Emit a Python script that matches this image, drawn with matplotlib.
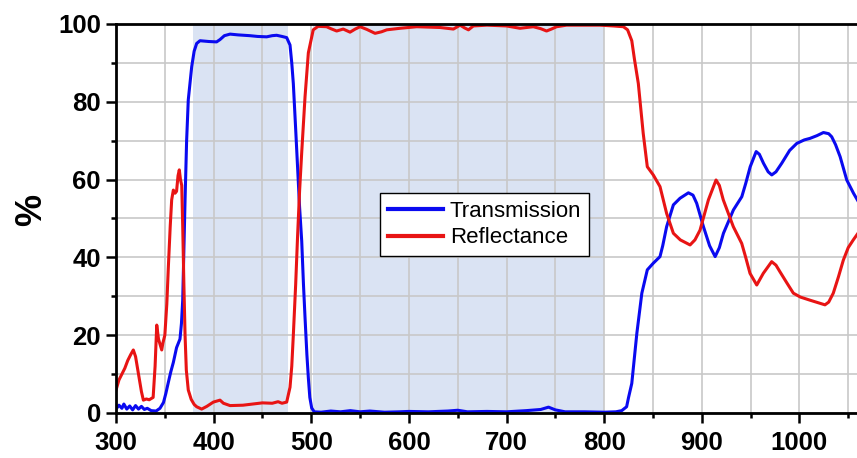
import matplotlib
matplotlib.use('Agg')
import matplotlib.pyplot as plt
from matplotlib.ticker import MultipleLocator

plt.rcParams['font.family'] = ['Liberation Sans', 'DejaVu Sans']

# Transmission spectrum (wavelength nm, %)
trans_nm = [300, 303, 306, 308, 311, 314, 317, 320, 323, 326, 329, 332, 336, 341, 345,
            348.6, 351, 353.6, 356, 358.7, 362, 365.5, 367, 368.3, 369.5, 370.7, 372.3,
            374, 377.5, 380, 382.6, 386, 395, 403, 406.5, 411, 416.8, 425, 437, 445,
            454.3, 460, 464.5, 470, 474.8, 478.2, 480, 481.6, 484, 486, 488, 490.2, 492,
            493.6, 495.5, 497, 498.5, 500.4, 503, 510, 520, 530, 540, 550, 560, 575, 590,
            600, 620, 640, 650, 660, 680, 700, 720, 735, 743, 750, 760, 780, 800, 812,
            818, 823, 825, 828.3, 833.5, 838.6, 844.2, 850.3, 857.2, 860, 864, 870.9,
            877.7, 886.3, 891, 894.8, 901.7, 908, 913.7, 918, 922.2, 932.4, 941, 945,
            949.6, 955.7, 959, 963.2, 968, 971.7, 976, 981.9, 990, 997.3, 1005, 1010.9,
            1018, 1024.6, 1030, 1033.1, 1037, 1041.7, 1048.5, 1055.4, 1060]
trans_pct = [1.0, 2.0, 1.2, 2.3, 1.0, 1.8, 0.8, 1.9, 1.0, 1.7, 0.9, 1.2, 0.6, 0.5, 1.2,
             2.7, 5, 7.9, 10.5, 13, 16.8, 19, 23, 29, 42, 54.8, 70,
             80.5, 89, 93, 95, 95.7, 95.5, 95.4, 96, 97, 97.4, 97.2, 97.0, 96.8,
             96.7, 97, 97.1, 96.8, 96.5, 94.6, 90, 84.7, 73, 63, 53, 44.2, 33,
             24.5, 15, 9, 4, 1.3, 0.3, 0.2, 0.5, 0.3, 0.6, 0.3, 0.5, 0.2, 0.3,
             0.4, 0.3, 0.5, 0.7, 0.3, 0.4, 0.3, 0.6, 0.9, 1.5, 0.8, 0.3, 0.3, 0.2, 0.3,
             0.6, 1.6, 4.0, 7.6, 20.5, 30.8, 36.8, 38.5, 40.2, 43, 47.9, 53.5,
             55.2, 56.6, 56, 53.9, 47.9, 43, 40.2, 42.5, 46.2, 52.2, 55.6, 59,
             63.3, 67.2, 66.5, 64.2, 62, 61.2, 62, 64.2, 67.5, 69.3, 70.2, 70.6,
             71.3, 72.1, 71.8, 71, 69, 65.9, 59.9, 56.5, 54.5]

# Reflectance spectrum (wavelength nm, %)
refl_nm = [300, 303, 306, 309, 312, 315, 317.7, 320, 323, 326, 328, 331, 334, 338, 340,
           341.7, 343.5, 346.8, 348, 350, 352, 353.6, 355.5, 357, 358.7, 360.5, 362,
           363.5, 364.8, 366, 367.3, 368.3, 369.5, 370.7, 372, 374, 377, 380, 382.6,
           387.7, 393, 399.7, 406.5, 410, 416.8, 430, 440, 450, 460, 466, 470, 474.8,
           478.2, 480, 481.6, 484, 486, 488, 490.2, 493.6, 497, 502, 507, 515.7, 520,
           526, 532.7, 539.7, 545, 550, 557, 565.3, 572, 577.3, 591, 608, 632, 645.6,
           652.4, 657, 661, 666, 680, 700, 713.8, 727.4, 735, 741, 746, 751.3, 761.5,
           795.6, 809.3, 819.7, 824, 828.3, 831, 835, 840, 844.2, 850.3, 857.2, 864,
           870.9, 878, 888, 893, 898.2, 906.8, 914.6, 918, 922, 932.3, 940.9, 945,
           949.4, 956.3, 963, 971.6, 976, 980.1, 987, 993.8, 1001, 1010.8, 1020,
           1026.2, 1030, 1034.7, 1040, 1045, 1050, 1055.2, 1060]
refl_pct = [5.9, 8.5, 10, 11.5, 13.5, 15, 16.2, 14.5, 10, 5.5, 3.3, 3.6, 3.4, 4.0, 12,
            22.6, 19, 16.2, 18, 20, 28, 37.6, 48, 54.8, 57.3, 56.5, 57,
            61, 62.5, 60, 58.5, 48, 33, 20, 11, 5.9, 3.5, 2.2, 1.6,
            1.0, 1.7, 2.8, 3.3, 2.5, 1.9, 2.0, 2.3, 2.6, 2.5, 2.9, 2.5, 2.8,
            6.6, 12, 20, 33, 45.7, 57, 67, 81.3, 92.6, 98.5, 99.4, 99.3, 98.8,
            98.2, 98.7, 97.9, 98.7, 99.3, 98.6, 97.6, 98.0, 98.5, 98.9, 99.3, 99.1, 98.7,
            99.7, 99.0, 98.5, 99.5, 99.7, 99.5, 98.9, 99.3, 98.8, 98.2, 98.7, 99.3, 99.7,
            99.7, 99.5, 99.3, 98.5, 95.7, 91, 84.7, 71.9, 63.3, 61.2, 58.2, 51.3,
            46.2, 44.5, 43.2, 44.5, 47, 54.8, 59.9, 58.5, 54.8, 47.9, 43.6, 40,
            35.9, 32.9, 35.9, 38.9, 38, 36.3, 33.5, 30.8, 29.8, 29, 28.3,
            27.8, 28.5, 30.8, 35, 39.3, 42.5, 44.5, 46.2]

# Shaded pass bands (nm)
bands = [(379, 476), (502, 800)]

fig = plt.figure(figsize=(8.57, 4.58), dpi=100)
ax = fig.add_axes([0.1354, 0.0983, 0.8646, 0.8493])

for lo, hi in bands:
    ax.axvspan(lo, hi, color='#dae3f3', zorder=0, lw=0)

ax.plot(trans_nm, trans_pct, color='#0a0af0', lw=2.2, label='Transmission')
ax.plot(refl_nm, refl_pct, color='#e81414', lw=2.2, label='Reflectance')

ax.set_xlim(300, 1059)
ax.set_ylim(0, 100)

ax.xaxis.set_major_locator(MultipleLocator(100))
ax.xaxis.set_minor_locator(MultipleLocator(50))
ax.yaxis.set_major_locator(MultipleLocator(20))
ax.yaxis.set_minor_locator(MultipleLocator(10))

ax.set_axisbelow(True)
ax.grid(which='both', color='#c8c8c8', linewidth=1.2)

for side in ['left', 'bottom', 'top']:
    ax.spines[side].set_linewidth(2)
ax.spines['right'].set_visible(False)

ax.tick_params(which='major', direction='out', length=7, width=1.8, pad=4, labelsize=18.5)
ax.tick_params(axis='x', which='major', pad=6)
ax.tick_params(which='minor', direction='out', length=3.5, width=1.8)
for lbl in ax.get_xticklabels() + ax.get_yticklabels():
    lbl.set_fontweight('bold')

# big bold "%" on the left
ax.set_ylabel('%', fontsize=26, fontweight='bold')
ax.yaxis.set_label_coords(-0.09, 0.522)

leg = ax.legend(loc='upper left', bbox_to_anchor=(0.341, 0.594), fontsize=16,
                frameon=True, fancybox=False, framealpha=1, edgecolor='black',
                handlelength=2.5, handletextpad=0.3, labelspacing=0.25, borderpad=0.35)
leg.get_frame().set_linewidth(1)
for line in leg.get_lines():
    line.set_linewidth(3)

fig.savefig('out.png', dpi=100)
